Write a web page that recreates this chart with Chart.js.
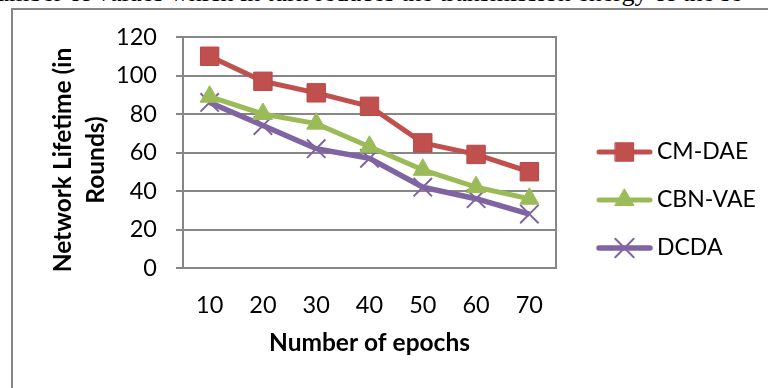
<!DOCTYPE html>
<html>
<head>
<meta charset="utf-8">
<script src="https://cdn.jsdelivr.net/npm/chart.js@4.4.1/dist/chart.umd.min.js"></script>
<style>
  html, body { margin: 0; padding: 0; background: #fff; overflow: hidden; }
  #wrap { position: relative; width: 768px; height: 388px; overflow: hidden; }
  #texto { position: absolute; left: -4px; top: -20px; font-family: "Liberation Serif", serif; font-size: 26px; line-height: 26px; white-space: nowrap; color: #000; }
  #moldura { position: absolute; left: 11px; top: 8px; width: 800px; height: 420px; border: 2px solid #878787; }
  #grafico { position: absolute; left: 0; top: 0; }
</style>
</head>
<body>
<div id="wrap">
  <div id="texto">umber of values which in turn reduces the transmission energy of the se</div>
  <div id="moldura"></div>
  <canvas id="grafico" width="768" height="388"></canvas>
</div>
<script>
// dados do grafico
const epocas = ['10', '20', '30', '40', '50', '60', '70'];
const cmDae = [110, 97, 91, 84, 65, 59, 50];
const cbnVae = [89, 80, 75, 63, 51, 42, 36];
const dcda = [86, 74, 62, 57, 42, 36, 28];
const nomesSeries = ['CM-DAE', 'CBN-VAE', 'DCDA'];
const ticksY = [0, 20, 40, 60, 80, 100, 120];
const tituloY = ['Network Lifetime (in', 'Rounds)'];

const cinza = '#878787';
const fonte = 'Lato';

// titulo do eixo Y e legenda (linha + marcador), no lugar do original
const extrasExcel = {
  id: 'extrasExcel',
  afterDraw(chart) {
    const ctx = chart.ctx;

    // titulo Y, duas linhas giradas
    ctx.save();
    ctx.fillStyle = '#000';
    ctx.font = 'bold 24.5px ' + fonte;
    ctx.textAlign = 'center';
    ctx.textBaseline = 'middle';
    const posX = [63, 96];
    tituloY.forEach((t, i) => {
      ctx.save();
      ctx.translate(posX[i], 160);
      ctx.rotate(-Math.PI / 2);
      ctx.fillText(t, 0, 0);
      ctx.restore();
    });
    ctx.restore();

    const linhasY = [152, 200, 248];
    chart.data.datasets.forEach((ds, i) => {
      const y = linhasY[i];
      ctx.save();
      ctx.strokeStyle = ds.borderColor;
      ctx.lineWidth = ds.borderWidth;
      ctx.lineCap = 'round';
      ctx.beginPath();
      ctx.moveTo(599, y);
      ctx.lineTo(650, y);
      ctx.stroke();
      ctx.fillStyle = ds.pointBackgroundColor;
      ctx.strokeStyle = ds.pointBorderColor;
      ctx.lineWidth = ds.pointBorderWidth;
      Chart.helpers.drawPoint(ctx, {
        pointStyle: ds.pointStyle,
        radius: ds.pointRadius,
        borderWidth: ds.pointBorderWidth
      }, 624.5, y);
      ctx.fillStyle = '#000';
      ctx.font = '23px ' + fonte;
      ctx.textBaseline = 'middle';
      ctx.textAlign = 'left';
      ctx.fillText(ds.label, 657, y);
      ctx.restore();
    });
  }
};

const ctx = document.getElementById('grafico').getContext('2d');
const grafico = new Chart(ctx, {
  type: 'line',
  data: {
    labels: epocas,
    datasets: [
      {
        label: nomesSeries[0],
        data: cmDae,
        borderColor: '#C0504D',
        backgroundColor: '#C0504D',
        borderWidth: 5,
        pointStyle: 'rect',
        pointRadius: 13,
        pointBorderWidth: 1,
        pointBackgroundColor: '#C0504D',
        pointBorderColor: '#B9474A'
      },
      {
        label: nomesSeries[1],
        data: cbnVae,
        borderColor: '#9BBB59',
        backgroundColor: '#9BBB59',
        borderWidth: 5,
        pointStyle: 'triangle',
        pointRadius: 11,
        pointBorderWidth: 1,
        pointBackgroundColor: '#9BBB59',
        pointBorderColor: '#9BBB59'
      },
      {
        label: nomesSeries[2],
        data: dcda,
        borderColor: '#8064A2',
        backgroundColor: '#8064A2',
        borderWidth: 5.5,
        pointStyle: 'crossRot',
        pointRadius: 13,
        pointBorderWidth: 2,
        pointBackgroundColor: '#8064A2',
        pointBorderColor: '#8064A2'
      }
    ]
  },
  options: {
    responsive: false,
    animation: false,
    devicePixelRatio: 1,
    layout: { padding: { left: 0, top: 37, right: 212, bottom: 0 } },
    elements: { line: { tension: 0 } },
    plugins: {
      legend: { display: false },
      tooltip: { enabled: false }
    },
    scales: {
      x: {
        offset: true,
        grid: { display: false, drawTicks: false },
        border: { display: true, color: cinza, width: 2 },
        ticks: { color: '#000', padding: 23, font: { family: fonte, size: 23.5 } },
        title: {
          display: true,
          text: 'Number of epochs',
          color: '#000',
          font: { family: fonte, size: 24.5, weight: 'bold' },
          padding: { top: 0, bottom: 30 }
        },
        afterFit(scale) { scale.height = 120; }
      },
      y: {
        min: 0,
        max: 120,
        afterBuildTicks(scale) { scale.ticks = ticksY.map(v => ({ value: v })); },
        grid: { color: cinza, lineWidth: 2, drawTicks: true, tickLength: 7 },
        border: { display: true, color: cinza, width: 2 },
        ticks: { color: '#000', padding: 19, font: { family: fonte, size: 23.5 } },
        afterFit(scale) { scale.width = 183; }
      },
      y2: {
        position: 'right',
        min: 0,
        max: 120,
        grid: { drawOnChartArea: false, drawTicks: false },
        border: { display: true, color: cinza, width: 2 },
        ticks: { display: false },
        afterFit(scale) { scale.width = 0; }
      }
    }
  },
  plugins: [extrasExcel]
});
</script>
</body>
</html>
